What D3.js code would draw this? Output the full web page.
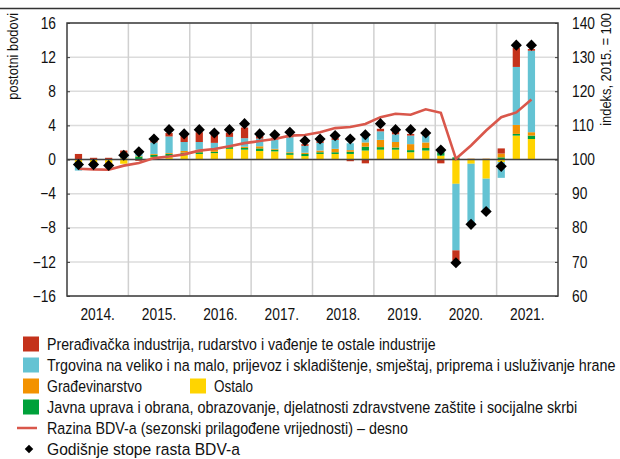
<!DOCTYPE html>
<html>
  <head>
    <meta charset="utf-8">
    <title>BDV doprinosi</title>
    <script src="https://d3js.org/d3.v7.min.js"></script>
    <style>
      body { margin: 0; background: white; }
      svg text { font-family: "Liberation Sans", Arial, sans-serif; fill: #111; }
    </style>
  </head>
  <body>
    <script>
      // quarters 2014 Q1 - 2021 Q3
      const years = ['2014.', '2015.', '2016.', '2017.', '2018.', '2019.', '2020.', '2021.'];
      const ostalo    = [-0.3,-0.3,-0.4,-0.5, 0.05,0.3,0.35,0.5, 0.65,0.75,1.25,1.15, 1.0,0.95,0.55,0.4, 0.65,0.65,0.65,1.05, 1.15,1.15,0.85,1.05, 0.45,-2.85,-0.5,-2.25, -0.3,2.8,2.4];
      const javna     = [-0.1,0,0,0.05, 0.3,0.25,0.3,0.3, 0.2,0.15,0.2,0.2, 0.3,0.2,0.2,0.25, 0.2,0.2,0.25,0.45, 0.3,0.25,0.25,0.3, 0.4,0.25,0,0, 0.25,0.2,0.4];
      const gradj     = [-0.2,-0.2,-0.2,0.1, 0.05,0.1,0.1,0.2, 0.3,0.25,0.1,0.15, 0.25,0.1,0.1,0.15, 0.2,0.4,0.2,0.5, 0.85,0.65,0.7,0.65, 0,0,0.1,0.1, 0.45,1.05,0.4];
      const trgovina  = [-0.7,-0.3,-0.3,0.4, 0.6,1.35,1.95,1.05, 0.9,0.8,1.1,1.0, 0.9,1.1,1.75,0.8, 0.9,1.05,0.8,0.65, 1.0,0.9,1.0,0.8, 0,-7.8,-6.95,-3.7, -1.85,6.8,9.55];
      const preradj   = [0.65,0.2,0.2,0.5, -0.15,0.25,0.4,0.8, 1.15,1.05,0.5,1.25, 0.3,0.2,0.2,0.2, 0.2,0.2,-0.2,-0.45, 0.3,0.3,0.2,0.05, -0.45,-1.2,0,0, 0.6,2.25,0.2];
      const stope     = [-0.6,-0.6,-0.7,0.5, 0.9,2.4,3.5,3.0, 3.5,3.1,3.5,4.2, 3.0,2.9,3.2,2.2, 2.4,2.8,2.4,2.9, 4.2,3.5,3.5,3.1, 1.1,-12.1,-7.6,-6.1, -0.8,13.4,13.4];
      const razina    = [97.3,97.1,97.0,98.2, 99.0,100.4,100.9,101.5, 102.6,103.1,103.9,104.8, 105.4,106.0,107.0,107.2, 108.0,109.2,109.5,110.4, 112.4,113.4,113.1,114.7, 113.7,100.2,104.1,108.5, 112.4,113.8,117.6];
      const leftTicks  = [-16, -12, -8, -4, 0, 4, 8, 12, 16];
      const rightTicks = [60, 70, 80, 90, 100, 110, 120, 130, 140];

      const keys = ['ostalo', 'javna', 'gradj', 'trgovina', 'preradj'];
      const colors = {
        preradj: '#c4321b',
        trgovina: '#64c3d3',
        gradj: '#f39200',
        ostalo: '#ffd400',
        javna: '#00a13a'
      };
      const lineColor = '#d9574b';

      const quarters = [];
      years.forEach(y => [1, 2, 3, 4].forEach(q => quarters.push(y + 'Q' + q)));

      const rows = stope.map((s, i) => ({
        q: quarters[i],
        ostalo: ostalo[i], javna: javna[i], gradj: gradj[i],
        trgovina: trgovina[i], preradj: preradj[i],
        stopa: s, razina: razina[i]
      }));

      const w = 620, h = 459;
      const m = { left: 67, right: 558, top: 23, bottom: 296 };

      // narrow font look: squeeze text horizontally
      function squeeze(sel, f) {
        sel.each(function() {
          const len = this.getComputedTextLength();
          d3.select(this)
            .attr('textLength', len * f)
            .attr('lengthAdjust', 'spacingAndGlyphs');
        });
      }

      const svg = d3.select('body').append('svg')
        .attr('width', w)
        .attr('height', h);

      // top rule
      svg.append('line')
        .attr('x1', 0).attr('x2', w)
        .attr('y1', 8.5).attr('y2', 8.5)
        .style('stroke', '#333')
        .style('stroke-width', 1.5);

      const x = d3.scaleBand().domain(quarters).range([m.left, m.right]).padding(0.52);
      const xYear = d3.scaleBand().domain(years).range([m.left, m.right]);
      const y = d3.scaleLinear().domain([-16, 16]).range([m.bottom, m.top]);
      const y2 = d3.scaleLinear().domain([60, 140]).range([m.bottom, m.top]);

      // grid
      svg.append('g').selectAll('line')
        .data(leftTicks)
        .enter().append('line')
        .attr('x1', m.left).attr('x2', m.right)
        .attr('y1', d => y(d)).attr('y2', d => y(d))
        .style('stroke', '#dcdcdc')
        .style('stroke-width', 1.5);

      svg.append('g').selectAll('line')
        .data(years.slice(1))
        .enter().append('line')
        .attr('x1', d => xYear(d)).attr('x2', d => xYear(d))
        .attr('y1', m.top).attr('y2', m.bottom)
        .style('stroke', '#d0d0d0')
        .style('stroke-width', 1.5);

      // stacked bars
      const series = d3.stack()
        .keys(keys)
        .offset(d3.stackOffsetDiverging)(rows);

      svg.append('g').selectAll('g')
        .data(series)
        .enter().append('g')
        .style('fill', d => colors[d.key])
        .selectAll('rect')
        .data(d => d)
        .enter().append('rect')
        .attr('x', d => x(d.data.q))
        .attr('width', x.bandwidth())
        .attr('y', d => y(Math.max(d[0], d[1])))
        .attr('height', d => Math.abs(y(d[0]) - y(d[1])));

      // zero line
      svg.append('line')
        .attr('x1', m.left).attr('x2', m.right)
        .attr('y1', y(0)).attr('y2', y(0))
        .style('stroke', '#444')
        .style('stroke-width', 1.5);

      // level line (right axis)
      const line = d3.line()
        .x(d => x(d.q) + x.bandwidth() / 2)
        .y(d => y2(d.razina));

      svg.append('path')
        .datum(rows)
        .attr('d', line)
        .style('fill', 'none')
        .style('stroke', lineColor)
        .style('stroke-width', 2.6);

      // diamonds
      const diamond = d3.symbol().type(d3.symbolSquare).size(62);
      svg.append('g').selectAll('path')
        .data(rows)
        .enter().append('path')
        .attr('d', diamond)
        .attr('transform', d => `translate(${x(d.q) + x.bandwidth() / 2},${y(d.stopa)}) rotate(45)`)
        .style('fill', '#000');

      // frame
      svg.append('rect')
        .attr('x', m.left).attr('y', m.top)
        .attr('width', m.right - m.left)
        .attr('height', m.bottom - m.top)
        .style('fill', 'none')
        .style('stroke', '#3c3c3c')
        .style('stroke-width', 1.5);

      // axes
      const fmt = d => d < 0 ? '\u2212' + Math.abs(d) : d;
      const leftAxis = svg.append('g')
        .attr('transform', `translate(${m.left},0)`)
        .call(d3.axisLeft(y).tickValues(leftTicks).tickFormat(fmt).tickSize(-3).tickPadding(11));
      const rightAxis = svg.append('g')
        .attr('transform', `translate(${m.right},0)`)
        .call(d3.axisRight(y2).tickValues(rightTicks).tickSize(-3).tickPadding(14));
      const bottomAxis = svg.append('g')
        .attr('transform', `translate(0,${m.bottom})`)
        .call(d3.axisBottom(xYear).tickSize(0).tickPadding(13));

      [leftAxis, rightAxis, bottomAxis].forEach(a => {
        a.select('.domain').remove();
        a.selectAll('.tick line').style('stroke', '#3c3c3c');
        a.selectAll('text').style('font-size', '16px').style('font-family', null).call(squeeze, 0.86);
      });

      svg.append('text')
        .attr('transform', 'translate(18,13) rotate(-90) scale(0.86,1)')
        .attr('text-anchor', 'end')
        .style('font-size', '15px')
        .text('postotni bodovi');

      svg.append('text')
        .attr('transform', 'translate(611,13) rotate(-90) scale(0.86,1)')
        .attr('text-anchor', 'end')
        .style('font-size', '15px')
        .text('indeks, 2015. = 100');

      // legend
      const legendItems = [
        { type: 'rect', key: 'preradj', x: 23, y: 344, label: 'Prerađivačka industrija, rudarstvo i vađenje te ostale industrije', end: 436 },
        { type: 'rect', key: 'trgovina', x: 23, y: 365, label: 'Trgovina na veliko i na malo, prijevoz i skladištenje, smještaj, priprema i usluživanje hrane', end: 616 },
        { type: 'rect', key: 'gradj', x: 23, y: 386, label: 'Građevinarstvo', end: 142 },
        { type: 'rect', key: 'ostalo', x: 190, y: 386, label: 'Ostalo', end: 253 },
        { type: 'rect', key: 'javna', x: 23, y: 407, label: 'Javna uprava i obrana, obrazovanje, djelatnosti zdravstvene zaštite i socijalne skrbi', end: 578 },
        { type: 'line', x: 23, y: 428, label: 'Razina BDV-a (sezonski prilagođene vrijednosti) \u2013 desno', end: 408 },
        { type: 'diamond', x: 23, y: 449, label: 'Godišnje stope rasta BDV-a', end: 240 }
      ];

      const legend = svg.append('g');
      legendItems.forEach(it => {
        const g = legend.append('g').attr('transform', `translate(${it.x},${it.y})`);
        if (it.type === 'rect') {
          g.append('rect')
            .attr('x', 0).attr('y', -7.5)
            .attr('width', 16).attr('height', 15)
            .style('fill', colors[it.key]);
        } else if (it.type === 'line') {
          g.append('line')
            .attr('x1', -6).attr('x2', 14)
            .attr('y1', 0).attr('y2', 0)
            .style('stroke', lineColor)
            .style('stroke-width', 2.5);
        } else {
          g.append('path')
            .attr('d', d3.symbol().type(d3.symbolSquare).size(36))
            .attr('transform', 'translate(6,0) rotate(45)')
            .style('fill', '#000');
        }
        const t = g.append('text')
          .attr('dy', '0.36em')
          .style('font-size', '16.5px')
          .text(it.label);
        const f = (it.end - it.x - 24) / t.node().getComputedTextLength();
        t.attr('transform', `translate(24,0) scale(${f},1)`);
      });
    </script>
  </body>
</html>
